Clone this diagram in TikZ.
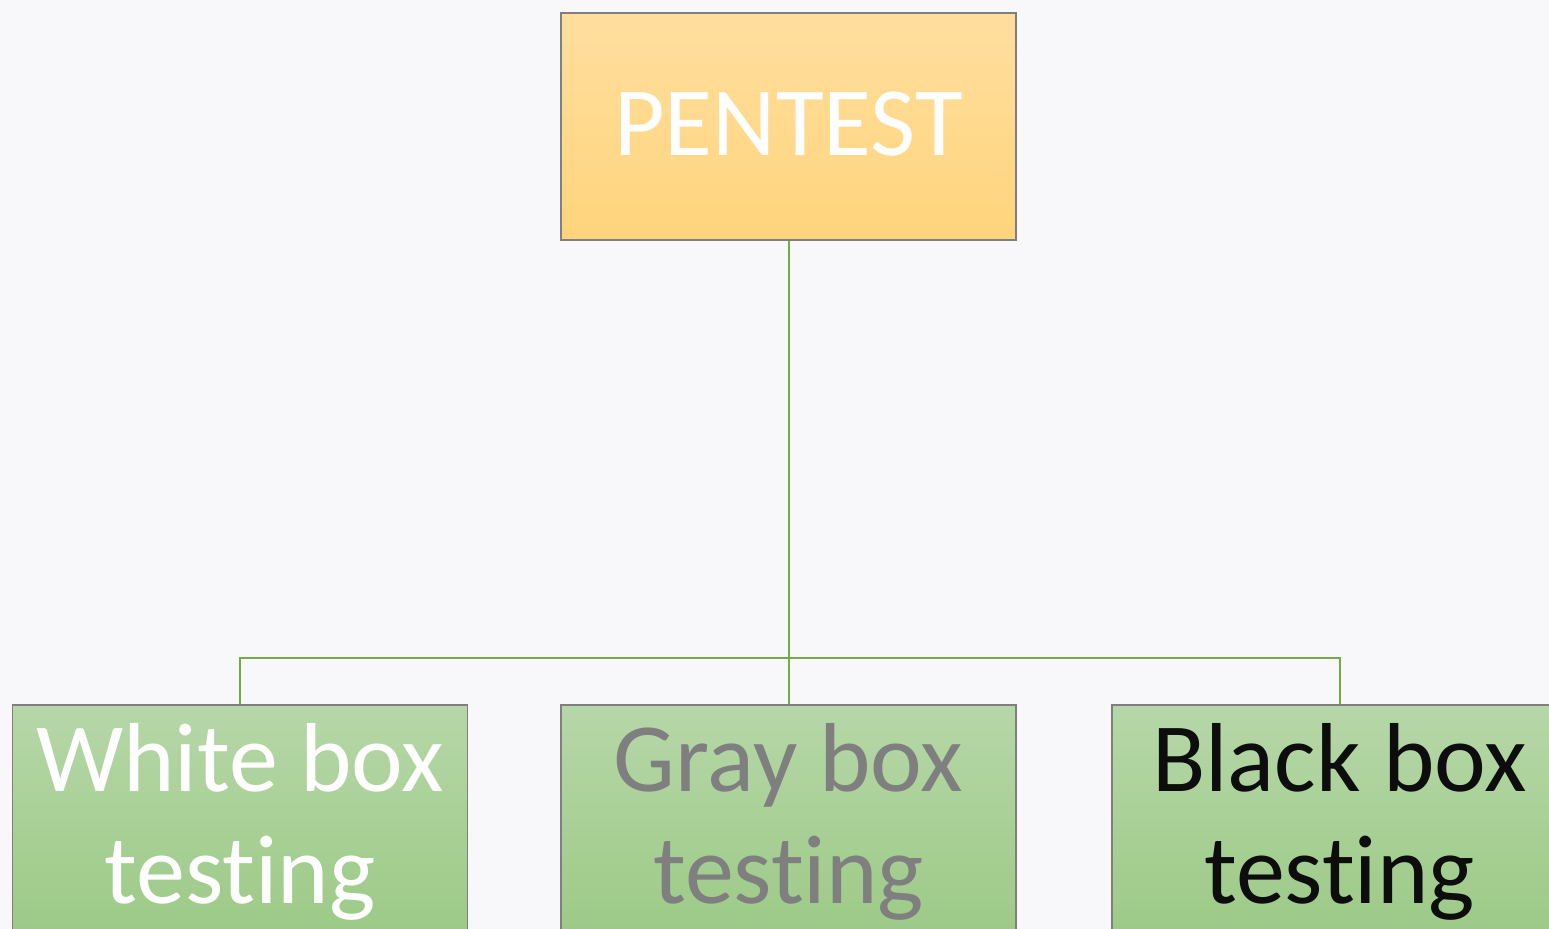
\documentclass[tikz,border=0pt]{standalone}
\usepackage{fontspec}
\setmainfont{Carlito}[Ligatures=NoCommon]
\definecolor{bg}{HTML}{F8F8FA}
\definecolor{orangetop}{HTML}{FFDE9E}
\definecolor{orangebot}{HTML}{FFD47C}
\definecolor{greentop}{HTML}{B6D7A8}
\definecolor{greenbot}{HTML}{9DCA87}
\definecolor{edge}{HTML}{7F7F7F}
\definecolor{link}{HTML}{70AD47}
\definecolor{graytext}{HTML}{7F7F7F}
\definecolor{blacktext}{HTML}{0D0D0D}
\begin{document}
\begin{tikzpicture}[x=0.5pt,y=-0.5pt,
  box/.style={draw=edge, line width=0.75pt, rectangle, minimum width=227.5pt, minimum height=113.5pt, inner sep=0pt},
  topbox/.style={box, top color=orangetop, bottom color=orangebot},
  leafbox/.style={box, top color=greentop, bottom color=greenbot},
  toptext/.style={inner sep=0pt, font=\fontsize{49}{55}\selectfont, yshift=1pt},
  leaftext/.style={inner sep=0pt, align=center, font=\fontsize{49}{56}\selectfont, yshift=-1.5pt},
  connector/.style={draw=link, line width=1pt}]
\useasboundingbox (0,0) rectangle (1549,929);
\clip (0,0) rectangle (1549,929);
\fill[bg] (0,0) rectangle (1549,929);
\node[topbox] (pentest) at (788.5,126.5) {};
\node[toptext, text=white] (pentestlabel) at (pentest.center) {PENTEST};
\node[leafbox] (white) at (240,818.5) {};
\node[leaftext, text=white] (whitelabel) at (white.center) {White box\\testing};
\node[leafbox] (gray) at (788.5,818.5) {};
\node[leaftext, text=graytext] (graylabel) at (gray.center) {Gray box\\testing};
\node[leafbox] (black) at (1339.5,818.5) {};
\node[leaftext, text=blacktext] (blacklabel) at (black.center) {Black box\\testing};
\coordinate (hub) at (pentest.south |- 0,658);
\draw[connector] (pentest.south) -- (hub);
\draw[connector] (white.north) -- (white.north |- hub) -- (black.north |- hub) -- (black.north);
\draw[connector] (hub) -- (gray.north);
\end{tikzpicture}
\end{document}
